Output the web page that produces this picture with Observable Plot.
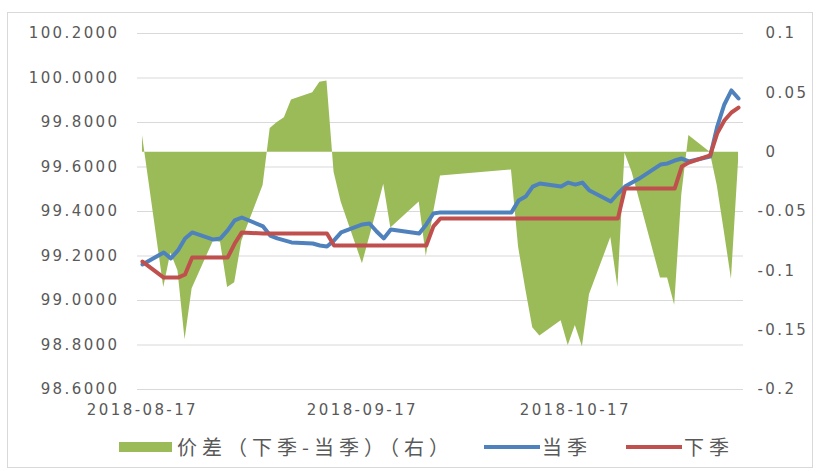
<!DOCTYPE html>
<html>
<head>
<meta charset="utf-8">
<script src="https://cdn.jsdelivr.net/npm/d3@7"></script>
<script src="https://cdn.jsdelivr.net/npm/@observablehq/plot@0.6"></script>
<style>
  html, body { margin: 0; padding: 0; background: #fff; }
  #wrap { position: relative; width: 820px; height: 471px; overflow: hidden; }
  #frame { position: absolute; left: 7px; top: 12px; width: 806px; height: 456px; border: 1px solid #d9d9d9; box-sizing: border-box; }
  #chart { position: absolute; left: 0; top: 0; }
  #legend { position: absolute; left: 0; top: 428px; width: 820px; height: 40px; font-family: "Noto Sans CJK SC", sans-serif; font-size: 20px; color: #595959; letter-spacing: 5px; }
  .sw { position: absolute; }
  .lt { position: absolute; top: 6px; line-height: 26px; white-space: nowrap; }
</style>
</head>
<body>
<div id="wrap">
  <div id="frame"></div>
  <div id="chart"></div>
  <div id="legend"></div>
</div>
<script>
// ---- data ----
const dates = [
  "2018-08-17","2018-08-20","2018-08-21","2018-08-22","2018-08-23","2018-08-24","2018-08-27","2018-08-28","2018-08-29","2018-08-30","2018-08-31",
  "2018-09-03","2018-09-04","2018-09-05","2018-09-06","2018-09-07","2018-09-10","2018-09-11","2018-09-12","2018-09-13","2018-09-14",
  "2018-09-17","2018-09-18","2018-09-19","2018-09-20","2018-09-21","2018-09-25","2018-09-26","2018-09-27","2018-09-28",
  "2018-10-08","2018-10-09","2018-10-10","2018-10-11","2018-10-12","2018-10-15","2018-10-16","2018-10-17","2018-10-18","2018-10-19",
  "2018-10-22","2018-10-23","2018-10-24","2018-10-25","2018-10-26","2018-10-29","2018-10-30","2018-10-31","2018-11-01","2018-11-02",
  "2018-11-05","2018-11-06","2018-11-07","2018-11-08","2018-11-09"
];
// 当季
const current = [
  99.162, 99.216, 99.189, 99.225, 99.279, 99.306, 99.274, 99.279, 99.315, 99.360, 99.373,
  99.333, 99.292, 99.279, 99.270, 99.261, 99.256, 99.247, 99.243, 99.270, 99.306,
  99.342, 99.346, 99.310, 99.279, 99.319, 99.301, 99.342, 99.391, 99.396,
  99.396, 99.449, 99.467, 99.512, 99.526, 99.512, 99.530, 99.521, 99.530, 99.494,
  99.445, 99.481, 99.512, 99.530, 99.548, 99.611, 99.616, 99.629, 99.638, 99.625,
  99.647, 99.782, 99.881, 99.944, 99.908
];
// 下季
const next = [
  99.175, 99.103, 99.103, 99.103, 99.117, 99.193, 99.193, 99.193, 99.193, 99.256, 99.306,
  99.301, 99.301, 99.301, 99.301, 99.301, 99.301, 99.301, 99.301, 99.247, 99.247,
  99.247, 99.247, 99.247, 99.247, 99.247, 99.247, 99.247, 99.333, 99.369,
  99.369, 99.369, 99.369, 99.369, 99.369, 99.369, 99.369, 99.369, 99.369, 99.369,
  99.369, 99.369, 99.503, 99.503, 99.503, 99.503, 99.503, 99.503, 99.602, 99.620,
  99.652, 99.751, 99.809, 99.845, 99.867
];
// 价差（下季-当季）（右）
const spread = [
  0.014, -0.114, -0.085, -0.100, -0.158, -0.115, -0.075, -0.076, -0.114, -0.110, -0.075,
  -0.028, 0.020, 0.025, 0.029, 0.044, 0.050, 0.059, 0.060, -0.017, -0.042,
  -0.094, -0.072, -0.050, -0.027, -0.064, -0.042, -0.088, -0.052, -0.020,
  -0.015, -0.080, -0.115, -0.148, -0.155, -0.142, -0.163, -0.146, -0.164, -0.120,
  -0.072, -0.114, -0.001, -0.017, -0.039, -0.106, -0.106, -0.129, -0.036, 0.014,
  0.000, -0.028, -0.067, -0.107, -0.008
];
const leftTicks = [98.6, 98.8, 99.0, 99.2, 99.4, 99.6, 99.8, 100.0, 100.2];
const rightTicks = [-0.2, -0.15, -0.1, -0.05, 0, 0.05, 0.1];
const xTickLabels = ["2018-08-17", "2018-09-17", "2018-10-17"];
const seriesNames = ["价差（下季-当季）（右）", "当季", "下季"];
const colors = ["#9bbb59", "#4f81bd", "#c0504d"];

// ---- scales ----
const LMIN = 98.6, LMAX = 100.2, RMIN = -0.2, RMAX = 0.1;
const toL = r => LMIN + (r - RMIN) * (LMAX - LMIN) / (RMAX - RMIN);
const toR = l => RMIN + (l - LMIN) * (RMAX - RMIN) / (LMAX - LMIN);
const rFmt = l => String(+toR(l).toFixed(2));

const rows = dates.map((d, i) => ({date: new Date(d), cur: current[i], nxt: next[i], spr: spread[i]}));
const DAY = 864e5;
const x0 = new Date(new Date(dates[0]).getTime() - 0.7 * DAY);
const x1 = new Date(new Date(dates[dates.length - 1]).getTime() + 0.7 * DAY);

const H = 428;
const chart = Plot.plot({
  width: 820, height: H,
  marginLeft: 137, marginRight: 77, marginTop: 33, marginBottom: H - 389,
  x: {type: "utc", domain: [x0, x1]},
  y: {domain: [LMIN, LMAX]},
  style: {fontFamily: "DejaVu Sans, sans-serif", fontSize: "15px", color: "#595959", background: "transparent", overflow: "visible"},
  marks: [
    Plot.gridY(leftTicks, {stroke: "#d9d9d9", strokeOpacity: 1, strokeWidth: 1}),
    Plot.areaY(rows, {x: "date", y1: () => toL(0), y2: d => toL(d.spr), fill: colors[0], fillOpacity: 1, curve: "linear"}),
    Plot.lineY(rows, {x: "date", y: "cur", stroke: colors[1], strokeWidth: 4, strokeLinejoin: "round", strokeLinecap: "round"}),
    Plot.lineY(rows, {x: "date", y: "nxt", stroke: colors[2], strokeWidth: 4, strokeLinejoin: "round", strokeLinecap: "round"}),
    Plot.axisY(leftTicks, {anchor: "left", tickSize: 0, tickPadding: 18, tickFormat: d => d.toFixed(4), fill: "#595959"}),
    Plot.axisY(rightTicks.filter(v => v >= 0).map(toL), {anchor: "right", tickSize: 0, tickPadding: 22, tickFormat: rFmt, fill: "#595959"}),
    Plot.axisY(rightTicks.filter(v => v < 0).map(toL), {anchor: "right", tickSize: 0, tickPadding: 14, tickFormat: rFmt, fill: "#595959"}),
    Plot.axisX(xTickLabels.map(s => new Date(s)), {anchor: "bottom", tickSize: 0, tickPadding: 15, tickFormat: d3.utcFormat("%Y-%m-%d"), fill: "#595959"})
  ]
});
chart.style.letterSpacing = "2.4px";
document.getElementById("chart").appendChild(chart);

// ---- legend ----
const legend = document.getElementById("legend");
const items = [
  {sw: {left: 119, top: 14, width: 53, height: 10}, text: 177},
  {sw: {left: 484, top: 17, width: 56, height: 4}, text: 542},
  {sw: {left: 626, top: 17, width: 56, height: 4}, text: 684}
];
items.forEach((it, i) => {
  const s = document.createElement("div");
  s.className = "sw";
  Object.assign(s.style, {left: it.sw.left + "px", top: it.sw.top + "px", width: it.sw.width + "px", height: it.sw.height + "px", background: colors[i]});
  legend.appendChild(s);
  const t = document.createElement("div");
  t.className = "lt";
  t.style.left = it.text + "px";
  t.textContent = seriesNames[i];
  legend.appendChild(t);
});
</script>
</body>
</html>
